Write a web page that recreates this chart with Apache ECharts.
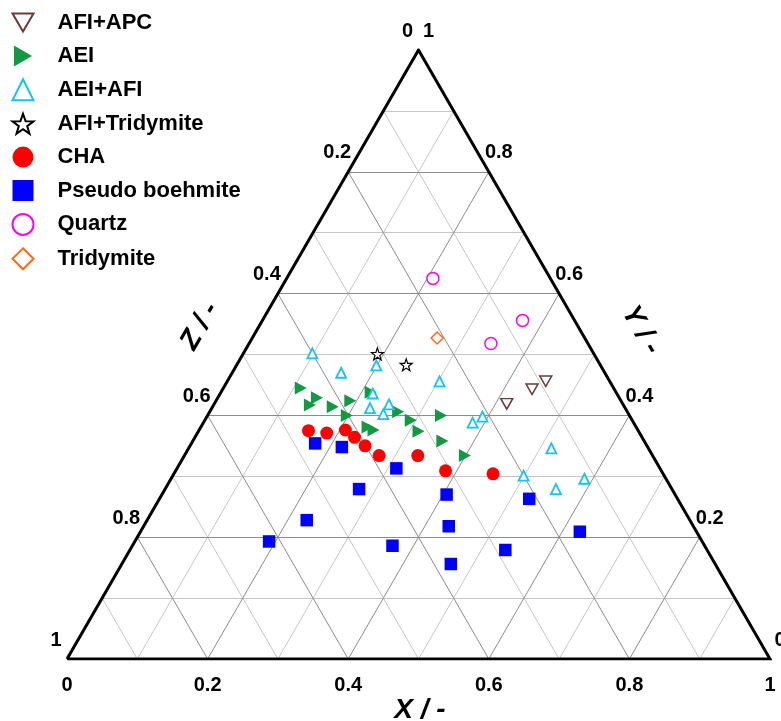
<!DOCTYPE html>
<html>
<head>
<meta charset="utf-8">
<script src="https://cdn.jsdelivr.net/npm/echarts@6/dist/echarts.min.js"></script>
<style>
  html, body { margin: 0; padding: 0; background: #fff; }
  #chart { width: 781px; height: 721px; }
</style>
</head>
<body>
<div id="chart"></div>
<script>
// ternary compositions [X, Y], Z = 1 - X - Y
const afiApc = [[0.453, 0.456], [0.440, 0.443], [0.416, 0.419]];
const aei = [[0.110, 0.445], [0.141, 0.429], [0.137, 0.417], [0.171, 0.414], [0.191, 0.424],
  [0.213, 0.438], [0.198, 0.400], [0.237, 0.381], [0.248, 0.376], [0.268, 0.406],
  [0.293, 0.392], [0.313, 0.374], [0.332, 0.400], [0.355, 0.358], [0.399, 0.334]];
const aeiAfi = [[0.098, 0.502], [0.199, 0.482], [0.155, 0.470], [0.302, 0.456], [0.217, 0.436],
  [0.225, 0.412], [0.249, 0.418], [0.249, 0.402], [0.383, 0.388], [0.392, 0.398],
  [0.516, 0.346], [0.499, 0.301], [0.588, 0.296], [0.556, 0.279]];
const afiTridymite = [[0.191, 0.501], [0.241, 0.483]];
const cha = [[0.156, 0.375], [0.184, 0.371], [0.208, 0.376], [0.227, 0.364], [0.249, 0.350],
  [0.277, 0.334], [0.332, 0.334], [0.384, 0.309], [0.454, 0.304]];
const pseudoBoehmite = [[0.176, 0.354], [0.217, 0.348], [0.312, 0.313], [0.276, 0.279],
  [0.405, 0.270], [0.227, 0.228], [0.434, 0.218], [0.370, 0.186], [0.468, 0.156],
  [0.534, 0.179], [0.526, 0.263], [0.625, 0.209], [0.191, 0.193]];
const quartz = [[0.208, 0.625], [0.370, 0.556], [0.344, 0.518]];
const tridymite = [[0.263, 0.527]];

const gridSteps = [0.1, 0.2, 0.3, 0.4, 0.5, 0.6, 0.7, 0.8, 0.9];
const tickValues = [0, 0.2, 0.4, 0.6, 0.8, 1];
const tickLabels = ['0', '0.2', '0.4', '0.6', '0.8', '1'];

const H = Math.sqrt(3) / 2;
const FONT = '"Liberation Sans", Arial, sans-serif';
const STAR = 'path://M0,-10L2.35,-3.24L9.51,-3.09L3.8,1.24L5.88,8.09L0,4L-5.88,8.09L-3.8,1.24L-9.51,-3.09L-2.35,-3.24Z';
const TRI_DOWN = 'path://M0,0L10,0L5,8.66Z';
const TRI_RIGHT = 'path://M0,0L8.66,5L0,10Z';

// ternary -> cartesian (bottom-left Z=1, bottom-right X=1, top Y=1)
function tern(p) {
  return [p[0] + p[1] / 2, p[1] * H];
}

let darkLines = [], lightLines = [];
gridSteps.forEach(v => {
  let arr = Math.round(v * 10) % 2 === 0 ? darkLines : lightLines;
  arr.push({ coords: [tern([0, v]), tern([1 - v, v])] });       // Y = v
  arr.push({ coords: [tern([v, 0]), tern([v, 1 - v])] });       // X = v
  arr.push({ coords: [tern([1 - v, 0]), tern([0, 1 - v])] });   // Z = v
});

let tickData = [];
tickValues.forEach((t, i) => {
  tickData.push({ name: tickLabels[i], value: tern([t, 0]), label: { offset: [0, 26] } });
  tickData.push({ name: tickLabels[i], value: tern([0, 1 - t]), label: { offset: [-11, -19] } });
  tickData.push({ name: tickLabels[i], value: tern([1 - t, t]), label: { offset: [10, -19] } });
});

function pts(list) {
  return list.map(tern);
}

function markSeries(name, list, symbol, size, style) {
  style.opacity = 1;
  return {
    name: name,
    type: 'scatter',
    data: pts(list),
    symbol: symbol,
    symbolSize: size,
    itemStyle: style,
    z: 5
  };
}

const chart = echarts.init(document.getElementById('chart'));
chart.setOption({
  animation: false,
  backgroundColor: '#fff',
  grid: { left: 67, top: 50, width: 703, height: 609 },
  xAxis: { type: 'value', min: 0, max: 1, show: false },
  yAxis: { type: 'value', min: 0, max: H, show: false },
  legend: {
    data: ['AFI+APC', 'AEI', 'AEI+AFI', 'AFI+Tridymite', 'CHA', 'Pseudo boehmite', 'Quartz', 'Tridymite'],
    orient: 'vertical',
    left: 11.5,
    top: 11.5,
    padding: 0,
    itemWidth: 21,
    itemHeight: 21,
    itemGap: 11.4,
    textStyle: {
      fontFamily: FONT, fontWeight: 'bold', fontSize: 22, color: '#000',
      lineHeight: 21, padding: [0, 0, 0, 19]
    }
  },
  graphic: [
    { type: 'text', x: 420, y: 710, style: { text: 'X / -', font: 'italic bold 28px ' + FONT, fill: '#000', align: 'center', verticalAlign: 'middle' } },
    { type: 'text', x: 641, y: 330, rotation: -Math.PI / 3, style: { text: 'Y / -', font: 'italic bold 28px ' + FONT, fill: '#000', align: 'center', verticalAlign: 'middle' } },
    { type: 'text', x: 200, y: 326, rotation: Math.PI / 3, style: { text: 'Z / -', font: 'italic bold 28px ' + FONT, fill: '#000', align: 'center', verticalAlign: 'middle' } }
  ],
  series: [
    {
      type: 'lines', coordinateSystem: 'cartesian2d', silent: true, z: 1,
      lineStyle: { color: '#c6c6c6', width: 1, opacity: 1 },
      data: lightLines
    },
    {
      type: 'lines', coordinateSystem: 'cartesian2d', silent: true, z: 1,
      lineStyle: { color: '#8c8c8c', width: 1, opacity: 1 },
      data: darkLines
    },
    {
      type: 'line', silent: true, z: 3, symbol: 'none',
      lineStyle: { color: '#000', width: 3, join: 'miter' },
      data: [tern([0, 0]), tern([1, 0]), tern([0, 1]), tern([0, 0])]
    },
    {
      type: 'scatter', silent: true, z: 4, symbolSize: 1,
      itemStyle: { color: 'rgba(0,0,0,0)', opacity: 1 },
      label: {
        show: true, position: 'inside', formatter: '{b}',
        fontFamily: FONT, fontWeight: 'bold', fontSize: 20, color: '#000'
      },
      data: tickData
    },
    markSeries('AFI+APC', afiApc, TRI_DOWN, [12, 10.5], { color: '#fff', borderColor: '#6b3a3a', borderWidth: 1.5 }),
    markSeries('AEI', aei, TRI_RIGHT, [12, 13], { color: '#119944' }),
    markSeries('AEI+AFI', aeiAfi, 'triangle', 10, { color: '#fff', borderColor: '#14c4f4', borderWidth: 1.8 }),
    markSeries('AFI+Tridymite', afiTridymite, STAR, 12, { color: '#fff', borderColor: '#000', borderWidth: 1.2 }),
    markSeries('CHA', cha, 'circle', 13, { color: '#ff0000' }),
    markSeries('Pseudo boehmite', pseudoBoehmite, 'rect', 12.5, { color: '#0000ff' }),
    markSeries('Quartz', quartz, 'circle', 12, { color: '#fff', borderColor: '#ff00ff', borderWidth: 1.5 }),
    markSeries('Tridymite', tridymite, 'diamond', 12, { color: '#fff', borderColor: '#ff6a13', borderWidth: 1.5 })
  ]
});
</script>
</body>
</html>
